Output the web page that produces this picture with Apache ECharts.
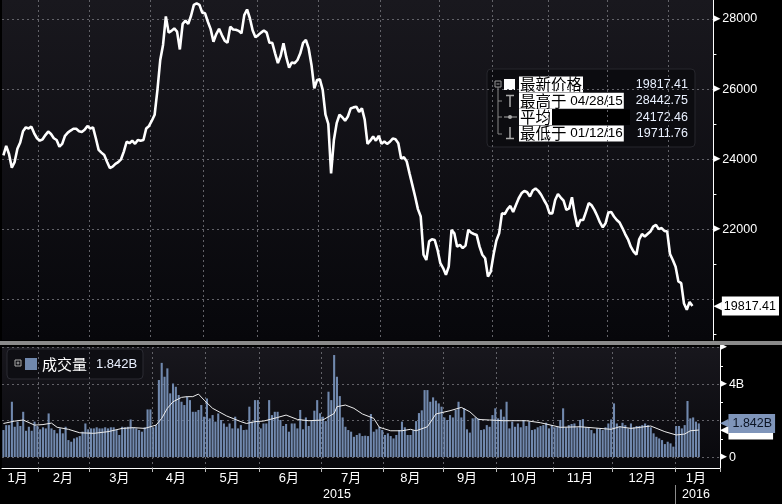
<!DOCTYPE html>
<html><head><meta charset="utf-8">
<script src="https://cdn.jsdelivr.net/npm/echarts@6/dist/echarts.min.js"></script>
<style>html,body{margin:0;padding:0;background:#000}#c{width:782px;height:504px}</style>
</head><body><div id="c"></div>
<script>
// ---------- data ----------
const monthLabels = ['1月','2月','3月','4月','5月','6月','7月','8月','9月','10月','11月','12月','1月'];
const monthDays = [13,18,22,19,19,22,22,21,19,20,21,22,9];
const yearLabels = ['2015','2016'];
const price = [
 24112,24380,24150,23760,23920,24300,24480,24800,24910,24880,24930,24740,24600,
 24530,24570,24690,24790,24720,24600,24550,24360,24440,24670,24760,24820,24870,24870,24800,24780,24840,24950,
 24880,24910,24600,24270,24190,24120,23930,23750,23790,23870,23920,24000,24220,24500,24460,24530,24440,24550,24530,24550,24880,24950,
 25100,25270,25980,26830,27260,28070,27610,27660,27730,27640,27130,27860,27950,27860,28090,28400,28442.75,28400,28180,
 28160,27920,27710,27350,27570,27720,27540,27380,27320,27780,27700,27690,27660,27590,28110,28270,28020,27670,27480,
 27540,27610,27670,27610,27320,27320,27020,26740,26950,27310,26910,26610,26760,26740,26830,27020,27320,27400,27160,26690,26020,26260,
 26280,25980,25270,25010,23600,24550,25030,25270,25200,25100,25220,25450,25480,25500,25350,25450,25130,24440,24530,24650,24530,24670,
 24440,24510,24440,24500,24590,24570,24460,24020,24060,23940,23600,23270,22940,22580,22370,21280,21130,21660,21720,21700,21420,
 21040,20900,20710,20940,21990,21890,21510,21560,21470,21540,21990,21910,21870,21840,21510,21280,21180,20660,20800,
 21280,21680,21890,22460,22440,22580,22670,22500,22700,22890,23030,23100,23060,22940,23110,23170,23100,22990,22840,22700,
 22460,22460,22840,23010,22910,22820,22560,22600,22920,22430,22080,22270,22270,22500,22750,22690,22560,22390,22200,22060,22180,
 22480,22500,22370,22270,22200,22040,21870,21720,21510,21370,21280,21720,21870,21800,21870,21940,22080,22130,22010,22040,21960,21940,
 21300,21130,20940,20520,20470,19888,19711.76,19934.88,19817.41
];
const volume = [
 1.48,1.75,1.75,3.03,1.66,1.94,1.70,2.48,1.44,1.66,1.44,1.94,1.70,
 1.52,1.63,1.57,2.39,1.57,1.48,1.30,1.57,1.30,1.66,0.93,0.84,1.02,1.08,1.15,1.39,1.84,1.52,
 1.57,1.57,1.63,1.57,1.57,1.63,1.57,1.63,1.63,1.48,1.21,1.66,1.63,1.66,2.06,1.63,1.57,1.48,1.39,1.63,2.61,2.61,
 1.63,1.75,4.22,5.16,4.40,4.86,3.49,4.03,3.85,3.40,3.03,2.85,3.30,3.12,2.48,2.48,2.58,2.85,2.21,
 3.21,2.12,2.30,1.94,2.39,2.03,1.84,1.66,1.84,1.57,2.21,1.57,1.75,1.48,1.50,2.76,1.94,3.12,3.12,
 1.57,1.84,1.84,3.12,2.30,2.48,2.48,2.03,1.70,1.81,1.39,1.84,1.84,1.57,2.58,1.52,2.17,1.70,1.99,2.54,3.12,2.40,
 2.21,1.97,3.58,3.12,5.59,4.40,3.34,2.17,1.66,1.48,1.39,1.11,1.21,1.30,1.15,1.17,1.15,2.36,1.39,1.52,1.66,1.48,
 1.21,1.30,1.15,1.02,1.21,1.48,1.94,1.63,1.21,1.21,1.48,1.97,2.41,2.56,3.67,3.67,3.03,3.27,3.09,2.94,2.76,
 2.17,2.03,2.30,2.17,2.58,3.03,2.17,2.67,1.52,1.34,2.12,2.17,2.12,1.48,1.52,1.75,1.66,2.30,2.67,
 2.12,2.61,2.21,3.03,1.57,1.94,1.66,1.84,1.63,2.03,1.70,1.94,1.48,1.52,1.63,1.70,1.75,1.88,1.57,1.75,
 1.63,1.66,2.03,2.67,1.63,1.75,1.81,1.84,1.63,2.03,2.08,1.63,1.63,1.48,1.30,1.57,1.57,1.48,1.63,1.84,2.06,
 2.94,1.84,1.70,1.88,1.75,1.57,1.84,1.63,1.70,1.70,1.75,1.84,1.75,1.63,1.30,1.11,1.02,0.93,0.71,0.84,0.75,0.57,
 1.70,1.70,1.57,1.75,3.07,2.12,2.17,1.94,1.842
];
const volumeMA = [[0,1.84],[4,1.97],[7,2.03],[11,1.75],[14,1.78],[17,1.86],[19,1.63],[23,1.52],[27,1.33],[32,1.30],[37,1.39],[42,1.57],[46,1.61],[50,1.57],[54,1.75],[56,2.12],[58,2.67],[60,3.03],[63,3.27],[65,3.31],[67,3.31],[69,3.45],[71,3.12],[74,2.67],[79,2.25],[84,1.94],[86,1.84],[89,1.94],[92,1.97],[97,2.17],[100,2.30],[104,2.06],[108,1.99],[113,2.03],[117,2.39],[118,2.76],[121,2.85],[124,2.67],[127,2.36],[131,2.12],[133,1.63],[137,1.44],[141,1.44],[144,1.52],[146,1.44],[150,1.66],[153,2.36],[158,2.54],[162,2.72],[165,2.48],[168,2.06],[172,2.03],[177,1.99],[185,1.99],[190,1.88],[197,1.63],[204,1.66],[211,1.57],[215,1.52],[218,1.66],[222,1.57],[229,1.70],[234,1.39],[238,1.21],[241,1.26],[243,1.44],[246,1.48]];
const priceTicks = [20000,22000,24000,26000,28000];
const priceLabels = [22000,24000,26000,28000];
const priceMinorTicks = [19000,21000,23000,25000,27000];
const volumeTicks = [0,2,4,6];
const volumeLabels = [0,4,6];
const volumeMinorTicks = [1,3,5];
const statNames = ['最新价格','最高于','平均','最低于'];
const statDates = ['','04/28/15','','01/12/16'];
const statValues = ['19817.41','28442.75','24172.46','19711.76'];
const lastPrice = 19817.41;
const lastVolume = 1.842;
const lastVolumeMA = 1.481;
const volumeName = '成交量';

// ---------- derived category structure ----------
const padCount = 7;
const categories = [];
const monthStart = [];
monthDays.forEach((d, m) => { monthStart.push(categories.length); for (let j = 0; j < d; j++) categories.push(m + '-' + j); });
for (let j = 0; j < padCount; j++) categories.push('pad' + j);
const N = categories.length;
const boundaryValues = monthStart.slice(1).map(s => s - 0.5);
const boundarySet = new Set(monthStart.slice(1));
const monthLabelAt = new Map();
monthDays.forEach((d, m) => {
  const span = m === monthDays.length - 1 ? d + padCount : d;
  monthLabelAt.set(monthStart[m] + Math.floor(span / 2) - 1, monthLabels[m]);
});
const yearStart = monthStart[12];
const yearLabelAt = new Map([[Math.floor(yearStart / 2) - 1, yearLabels[0]], [yearStart + Math.floor((N - yearStart) / 2) - 1, yearLabels[1]]]);

const fontLatin = "'Liberation Sans', Arial, sans-serif";
const fontCJK = "'Noto Sans CJK SC', sans-serif";
const fontMix = "'Liberation Sans', 'Noto Sans CJK SC', sans-serif";
const gridLine = { color: '#626268', type: [2, 3], width: 1 };
const tri = { fontSize: 9, color: '#fff', padding: [0, 2, 1, 0], fontFamily: "'DejaVu Sans'" };

const chart = echarts.init(document.getElementById('c'));
const rowY = [84.5, 100.8, 117.1, 133.4];
const legendGraphics = [
  { type: 'rect', shape: { x: 487, y: 69, width: 208, height: 78, r: 4 }, style: { fill: '#0c0c10', stroke: '#26262c', lineWidth: 1 } },
  { type: 'rect', shape: { x: 495, y: 81, width: 6, height: 6 }, style: { fill: 'none', stroke: '#999', lineWidth: 1 } },
  { type: 'line', shape: { x1: 496.5, y1: 84, x2: 499.5, y2: 84 }, style: { stroke: '#999', lineWidth: 1 } },
  { type: 'rect', shape: { x: 504, y: 79, width: 11, height: 11 }, style: { fill: '#fff' } },
  { type: 'polyline', shape: { points: [[498, 87], [498, 134], [502, 134]] }, style: { stroke: '#888', lineWidth: 1, fill: 'none' } },
  { type: 'line', shape: { x1: 498, y1: 101, x2: 502, y2: 101 }, style: { stroke: '#888', lineWidth: 1 } },
  { type: 'line', shape: { x1: 498, y1: 117, x2: 502, y2: 117 }, style: { stroke: '#888', lineWidth: 1 } },
  { type: 'line', shape: { x1: 506, y1: 95.5, x2: 514, y2: 95.5 }, style: { stroke: '#aaa', lineWidth: 1.5 } },
  { type: 'line', shape: { x1: 510, y1: 95.5, x2: 510, y2: 107 }, style: { stroke: '#aaa', lineWidth: 1.5 } },
  { type: 'line', shape: { x1: 504, y1: 117, x2: 517, y2: 117 }, style: { stroke: '#aaa', lineWidth: 1 } },
  { type: 'circle', shape: { cx: 510, cy: 117, r: 2 }, style: { fill: '#aaa' } },
  { type: 'line', shape: { x1: 510, y1: 127, x2: 510, y2: 138.5 }, style: { stroke: '#aaa', lineWidth: 1.5 } },
  { type: 'line', shape: { x1: 506, y1: 138.5, x2: 514, y2: 138.5 }, style: { stroke: '#aaa', lineWidth: 1.5 } },
  { type: 'rect', shape: { x: 550, y: 109.5, width: 80, height: 15.5 }, style: { fill: '#000' } }
];
statNames.forEach((n, i) => {
  legendGraphics.push({
    type: 'text', x: 519, y: rowY[i],
    style: {
      text: '{c|' + n + '}' + (statDates[i] ? '{d| ' + statDates[i] + '}' : ''),
      rich: { c: { fontSize: 15.5, fontFamily: fontCJK, fill: '#000', lineHeight: 16 }, d: { fontSize: 13.5, fontFamily: fontLatin, fill: '#000', lineHeight: 16 } },
      backgroundColor: '#fff', padding: [0, 1, 0, 1], align: 'left', verticalAlign: 'middle'
    }
  });
  legendGraphics.push({
    type: 'text', x: 688, y: rowY[i],
    style: { text: statValues[i], fill: '#eaf1ff', fontSize: 12.5, fontFamily: fontLatin, align: 'right', verticalAlign: 'middle' }
  });
});
const volLegend = [
  { type: 'rect', shape: { x: 7, y: 349, width: 136, height: 30, r: 4 }, style: { fill: '#0e0e13', stroke: '#2b2b33', lineWidth: 1 } },
  { type: 'rect', shape: { x: 15, y: 360, width: 6, height: 6 }, style: { fill: 'none', stroke: '#aaa', lineWidth: 1 } },
  { type: 'line', shape: { x1: 16.5, y1: 363, x2: 19.5, y2: 363 }, style: { stroke: '#aaa', lineWidth: 1 } },
  { type: 'line', shape: { x1: 18, y1: 361.5, x2: 18, y2: 364.5 }, style: { stroke: '#aaa', lineWidth: 1 } },
  { type: 'rect', shape: { x: 25, y: 358, width: 12, height: 12 }, style: { fill: '#7088ad' } },
  { type: 'text', x: 42, y: 364, style: { text: volumeName, fill: '#fff', fontSize: 15, fontFamily: fontCJK, verticalAlign: 'middle' } },
  { type: 'text', x: 96, y: 364.5, style: { text: lastVolume.toFixed(3) + 'B', fill: '#eaf1ff', fontSize: 13, fontFamily: fontLatin, verticalAlign: 'middle' } }
];

// value-type overlay x axis (index space) used for month gridlines and year separator
function overlayX(gridIndex, extra) {
  return Object.assign({
    type: 'value', gridIndex, min: -0.5, max: N - 0.5, position: 'bottom',
    axisLine: { show: false, onZero: false }, axisLabel: { show: false },
    axisTick: { show: true, customValues: boundaryValues, length: 0 },
    splitLine: { show: true, lineStyle: gridLine }
  }, extra);
}
function yAx(gridIndex, min, max, extra) {
  return Object.assign({
    type: 'value', gridIndex, position: 'right', min, max,
    axisLine: { show: false, onZero: false }, axisTick: { show: false }, axisLabel: { show: false }, splitLine: { show: false }
  }, extra);
}
const PMIN = 18850, PMAX = 28540, VMIN = -0.6, VMAX = 6.03;

const option = {
  animation: false,
  backgroundColor: '#000',
  textStyle: { fontFamily: fontMix },
  grid: [
    { left: 2, right: 62, top: 0, bottom: 164, show: true, borderWidth: 0,
      backgroundColor: { type: 'linear', x: 0, y: 0, x2: 0, y2: 1, colorStops: [{ offset: 0, color: '#19181e' }, { offset: 1, color: '#07070b' }] } },
    { left: 2, right: 62, top: 347, bottom: 36, show: true, borderWidth: 0,
      backgroundColor: { type: 'linear', x: 0, y: 0, x2: 0, y2: 1, colorStops: [{ offset: 0, color: '#18171d' }, { offset: 1, color: '#08080c' }] } }
  ],
  xAxis: [
    { type: 'category', gridIndex: 0, data: categories, boundaryGap: true,
      axisLine: { show: false, onZero: false }, axisTick: { show: false }, axisLabel: { show: false }, splitLine: { show: false } },
    { type: 'category', gridIndex: 1, data: categories, boundaryGap: true, position: 'bottom',
      axisLine: { onZero: false, lineStyle: { color: '#fff', width: 1 } },
      axisTick: { show: true, interval: (i) => boundarySet.has(i), length: 4, lineStyle: { color: '#bbb' } },
      axisLabel: { interval: (i) => monthLabelAt.has(i), formatter: (v, i) => monthLabelAt.get(i) || '', color: '#fff', fontSize: 13, fontFamily: fontMix, margin: 4 },
      splitLine: { show: false } },
    overlayX(0, {}),
    overlayX(1, {}),
    overlayX(1, { offset: 17,
      axisTick: { show: true, customValues: [yearStart - 0.5], length: 19, lineStyle: { color: '#8c8c8c' } },
      axisLabel: { show: true, customValues: Array.from(yearLabelAt.keys()), formatter: (v) => yearLabelAt.get(v) || '', color: '#fff', fontSize: 12.5, fontFamily: fontLatin, margin: 3 },
      splitLine: { show: false } })
  ],
  yAxis: [
    yAx(0, PMIN, PMAX, {
      axisLine: { show: true, onZero: false, lineStyle: { color: '#fff', width: 1 } },
      axisTick: { show: true, customValues: priceTicks, length: 0 },
      axisLabel: { show: true, customValues: priceLabels, margin: 0, formatter: (v) => '{t|▶}{v|' + v + '}',
        rich: { t: tri, v: { fontSize: 12.5, color: '#fff', fontFamily: fontLatin } } },
      splitLine: { show: true, lineStyle: gridLine } }),
    yAx(0, PMIN, PMAX, { axisTick: { show: true, customValues: priceMinorTicks, length: 3, lineStyle: { color: '#fff' } } }),
    yAx(0, PMIN, PMAX, { z: 10,
      axisLabel: { show: true, customValues: [lastPrice], margin: 0, formatter: (v) => '{a|◀}{b|' + v.toFixed(2) + '}',
        rich: { a: { fontSize: 11, color: '#fff', fontFamily: "'DejaVu Sans'" },
                b: { fontSize: 12.5, color: '#000', backgroundColor: '#fff', padding: [3, 3, 3, 2], fontFamily: fontLatin } } } }),
    yAx(1, VMIN, VMAX, {
      axisLine: { show: true, onZero: false, lineStyle: { color: '#fff', width: 1 } },
      axisTick: { show: true, customValues: volumeTicks, length: 0 },
      axisLabel: { show: true, customValues: volumeLabels, margin: 0,
        formatter: (v) => v >= 6 ? '{t|▶}' : '{t|▶}{v|' + (v === 0 ? '0' : v + 'B') + '}',
        rich: { t: tri, v: { fontSize: 12.5, color: '#fff', fontFamily: fontLatin } } },
      splitLine: { show: true, lineStyle: gridLine } }),
    yAx(1, VMIN, VMAX, { axisTick: { show: true, customValues: volumeMinorTicks, length: 3, lineStyle: { color: '#fff' } } }),
    yAx(1, VMIN, VMAX, { z: 9,
      axisLabel: { show: true, customValues: [lastVolumeMA], margin: 0, formatter: (v) => '{a|◀}{b|' + v.toFixed(3) + 'B}',
        rich: { a: { fontSize: 11, color: '#fff', fontFamily: "'DejaVu Sans'" },
                b: { fontSize: 12.5, color: '#000', backgroundColor: '#fff', padding: [3, 3, 3, 2], fontFamily: fontLatin } } } }),
    yAx(1, VMIN, VMAX, { z: 11,
      axisLabel: { show: true, customValues: [lastVolume], margin: 0, formatter: (v) => '{a|◀}{b|' + v.toFixed(3) + 'B}',
        rich: { a: { fontSize: 11, color: '#7f95ba', fontFamily: "'DejaVu Sans'" },
                b: { fontSize: 12.5, color: '#0b1424', backgroundColor: '#7f95ba', padding: [3, 3, 3, 4], fontFamily: fontLatin } } } })
  ],
  series: [
    { type: 'line', name: '最新价格', xAxisIndex: 0, yAxisIndex: 0, data: price, showSymbol: false, silent: true,
      lineStyle: { color: '#fff', width: 2.6 }, z: 3 },
    { type: 'bar', name: volumeName, xAxisIndex: 1, yAxisIndex: 3, data: volume, silent: true,
      itemStyle: { color: '#7189ae' }, barCategoryGap: '26%' },
    { type: 'line', xAxisIndex: 1, yAxisIndex: 3, data: volumeMA, showSymbol: false, silent: true,
      lineStyle: { color: '#ececec', width: 1 }, z: 4 }
  ],
  graphic: [
    { type: 'rect', shape: { x: 0, y: 341, width: 782, height: 4 }, style: { fill: '#8a8a8a' }, z: 100 },
    { type: 'group', z: 100, children: legendGraphics },
    { type: 'group', z: 100, children: volLegend }
  ]
};
chart.setOption(option);
</script>
</body></html>
